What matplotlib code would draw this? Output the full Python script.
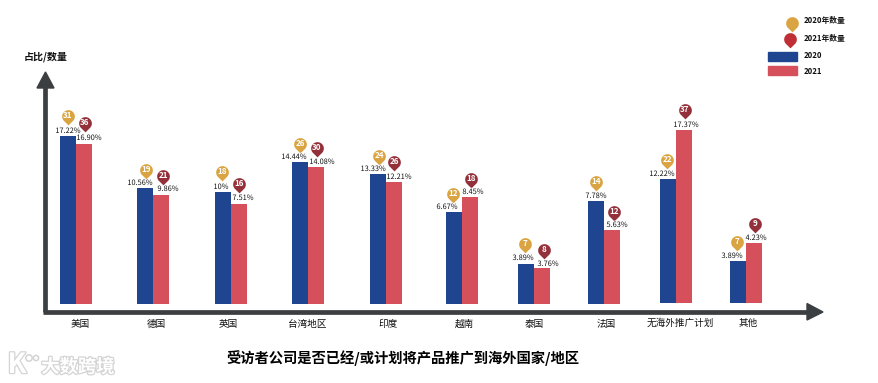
import matplotlib
matplotlib.use("Agg")
import matplotlib.pyplot as plt
import matplotlib.patheffects as pe
from matplotlib.path import Path
from matplotlib.patches import Rectangle, Polygon, Circle
import numpy as np

plt.rcParams['font.family'] = ['Noto Sans CJK SC', 'DejaVu Sans']

# ---- data ----
categories = ['美国', '德国', '英国', '台湾地区', '印度', '越南', '泰国', '法国', '无海外推广计划', '其他']
labels_2020 = ['17.22%', '10.56%', '10%', '14.44%', '13.33%', '6.67%', '3.89%', '7.78%', '12.22%', '3.89%']
labels_2021 = ['16.90%', '9.86%', '7.51%', '14.08%', '12.21%', '8.45%', '3.76%', '5.63%', '17.37%', '4.23%']
counts_2020 = [31, 19, 18, 26, 24, 12, 7, 14, 22, 7]
counts_2021 = [36, 21, 16, 30, 26, 18, 8, 12, 37, 9]
# bar lengths as drawn in the picture (the original's are hand drawn, not to one scale)
drawn_2020 = [167.5, 115.5, 111.5, 141.5, 129.5, 91.5, 39.5, 102.5, 124, 42]
drawn_2021 = [159.5, 108.5, 99.5, 136.5, 121.5, 106.5, 35.5, 73.5, 173, 60]

# ---- layout (pixel-like axes units) ----
group_x = [76, 153, 231, 308, 386, 462, 534, 604, 676, 746]
base_y = [303.5] * 8 + [302.7] * 2
cat_x = [80, 156, 228, 307.5, 388, 464, 534.5, 606, 680.5, 748.5]
cat_y = [324] * 8 + [323] * 2
pin20_x = [68, 146, 222, 300, 379, 453, 525, 596, 667, 737]
pin20_y = [116, 170, 172, 144, 156, 194, 244, 182, 160, 242]
pin21_x = [85, 163, 239, 317, 394, 471, 544, 614, 685, 755]
pin21_y = [123, 176, 184, 148, 162, 179, 250, 212, 110, 224]
lab20_x = [68, 140, 221, 294, 373, 447, 523, 596, 662, 732]
lab20_y = [131, 183, 187, 157, 169, 207, 258, 196, 174, 256]
lab21_x = [89, 168, 243, 322, 399, 473, 548, 617, 686, 756]
lab21_y = [138, 189, 198, 162, 177, 192, 264, 225, 125, 238]

BLUE, RED, GOLD, MAROON, DARK = '#1f4590', '#d5505a', '#d9a441', '#94303a', '#3c3f41'
BAR_W = 16.3

fig = plt.figure(figsize=(8.79, 3.83), dpi=100)
ax = fig.add_axes([0, 0, 1, 1])
ax.set_xlim(0, 879)
ax.set_ylim(383, 0)
ax.axis('off')

x = np.array(group_x, dtype=float)
base = np.array(base_y)
ax.bar(x - BAR_W / 2, -np.array(drawn_2020), BAR_W, bottom=base, color=BLUE, zorder=2)
ax.bar(x + BAR_W / 2, -np.array(drawn_2021), BAR_W, bottom=base, color=RED, zorder=2)

# axes arrows
ax.plot([45.5, 45.5], [85, 312], color=DARK, lw=3.4, solid_capstyle='butt', zorder=3)
ax.plot([43, 808], [312, 312], color=DARK, lw=3.4, solid_capstyle='butt', zorder=3)
ax.add_patch(Polygon([[37, 88], [54, 88], [45.5, 72]], color=DARK, zorder=3))
ax.add_patch(Polygon([[807, 303.5], [807, 320], [823, 312]], color=DARK, zorder=3))

# pin marker: circle with a short pointed tip below
t = np.linspace(np.radians(-40), np.radians(220), 40)
vx = np.cos(t)
vy = np.sin(t)
verts = np.column_stack([np.r_[vx, 0, vx[0]], np.r_[vy, -1.4, vy[0]]])
codes = [Path.MOVETO] + [Path.LINETO] * (len(verts) - 2) + [Path.CLOSEPOLY]
PIN = Path(verts, codes)
PIN_MS = 12.8

for px, py, n, c in zip(pin20_x + pin21_x, pin20_y + pin21_y, counts_2020 + counts_2021,
                        [GOLD] * 10 + [MAROON] * 10):
    ax.plot([px], [py], marker=PIN, ms=PIN_MS, color=c, mew=0, ls='none', zorder=4)
    ax.text(px, py - 0.3, str(n), color='white', fontsize=5.8, fontweight='bold',
            ha='center', va='center', zorder=5)

halo = [pe.withStroke(linewidth=1.2, foreground='white')]
for lx, ly, s in zip(lab20_x + lab21_x, lab20_y + lab21_y, labels_2020 + labels_2021):
    ax.text(lx, ly, s, color='#111111', fontsize=5.3, ha='center', va='center',
            zorder=6, path_effects=halo)

for cx, cy, s in zip(cat_x, cat_y, categories):
    ax.text(cx, cy, s, color='#111111', fontsize=6.9, fontweight='medium', ha='center', va='center')

ax.text(46, 57, '占比/数量', color='#111111', fontsize=7.2, fontweight='bold', ha='center', va='center')
ax.text(403, 358, '受访者公司是否已经/或计划将产品推广到海外国家/地区', color='#000000',
        fontsize=10.3, fontweight='bold', ha='center', va='center')

# legend
ax.plot([792], [22.5], marker=PIN, ms=PIN_MS, color=GOLD, mew=0, ls='none')
ax.plot([790], [38.5], marker=PIN, ms=PIN_MS, color='#bf2f35', mew=0, ls='none')
ax.add_patch(Rectangle((768, 52), 29, 8.5, color=BLUE))
ax.add_patch(Rectangle((768, 66), 29, 8.5, color=RED))
for ly, s in zip([21, 38, 55, 72], ['2020年数量', '2021年数量', '2020', '2021']):
    ax.text(804, ly, s, color='#111111', fontsize=5.6, fontweight='bold', ha='left', va='center')

# watermark
WM = '#d4d4d4'
ax.text(78, 367, '大数跨境', color='white', fontsize=13.2, fontweight='bold', ha='center', va='center',
        path_effects=[pe.withStroke(linewidth=1.8, foreground=WM)])
ax.text(17, 365, 'K', color='white', fontsize=20, fontweight='bold', ha='center', va='center',
        path_effects=[pe.withStroke(linewidth=1.8, foreground=WM)])
ax.add_patch(Circle((29, 358), 3.2, fc='none', ec=WM, lw=1.1))
ax.add_patch(Circle((36, 358), 2.6, fc='none', ec=WM, lw=1.1))

fig.savefig('out.png', dpi=100)
